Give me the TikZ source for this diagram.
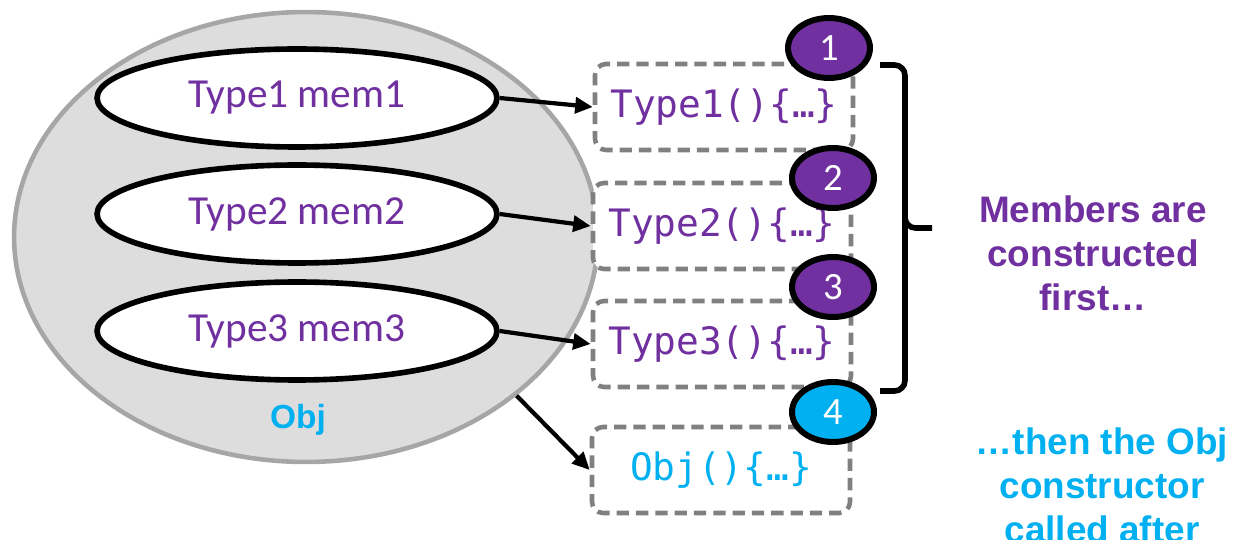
\documentclass[tikz,border=0pt]{standalone}
\usepackage{fontspec}
\setmainfont{Carlito}
\setsansfont{Liberation Sans}
\setmonofont{DejaVu Sans Mono}
\usepackage{tikz}
\usetikzlibrary{shapes.geometric, arrows.meta, positioning}

\definecolor{mempurple}{HTML}{7030A0}
\definecolor{objblue}{HTML}{00B0F0}
\definecolor{objgray}{HTML}{DDDDDD}
\definecolor{rimgray}{HTML}{A6A6A6}
\definecolor{dashgray}{HTML}{808080}

\begin{document}
\begin{tikzpicture}[
    x=0.02cm, y=-0.02cm,
    member/.style={ellipse, draw, line width=3.2pt, fill=white, minimum width=8cm, minimum height=1.96cm, inner sep=0pt, font=\fontsize{23.5}{26}\selectfont, text=mempurple},
    ctorbox/.style={rectangle, draw=dashgray, line width=2.6pt, dash pattern=on 7pt off 4pt, rounded corners=0.22cm, fill=white, minimum width=5.16cm, minimum height=1.72cm, inner sep=0pt, font=\ttfamily\fontsize{21.5}{24}\selectfont},
    badge/.style={ellipse, draw, line width=3.4pt, minimum width=1.64cm, minimum height=1.2cm, inner sep=0pt, text=white, font=\fontsize{22}{24}\selectfont},
    note/.style={align=center, font=\sffamily\bfseries\fontsize{21}{25}\selectfont},
    arrow/.style={-{Triangle[length=10pt,width=9pt]}, line width=2.4pt}
]
\useasboundingbox (0,0) rectangle (1241,540);
\clip (0,0) rectangle (1241,540);

% The object and its members
\node[ellipse, draw=rimgray, line width=2.6pt, fill=objgray, minimum width=11.68cm, minimum height=9cm] (obj) at (306,237) {};
\node[font=\sffamily\bfseries\fontsize{19}{22}\selectfont, text=objblue] (objname) at (298,420) {Obj};
\node[member] (mem1) at (297,98) {Type1 mem1};
\node[member] (mem2) at (297,214) {Type2 mem2};
\node[member] (mem3) at (297,331) {Type3 mem3};

% Constructors
\node[ctorbox, text=mempurple] (ctor1) at (724,107) {Type1()\{…\}};
\node[ctorbox, text=mempurple] (ctor2) at (722,226) {Type2()\{…\}};
\node[ctorbox, text=mempurple] (ctor3) at (722,344) {Type3()\{…\}};
\node[ctorbox, text=objblue] (ctor4) at (721,470) {Obj()\{…\}};

% Order of construction
\node[badge, fill=mempurple] (n1) at (829,48) {1};
\node[badge, fill=mempurple] (n2) at (833,178) {2};
\node[badge, fill=mempurple] (n3) at (833,287) {3};
\node[badge, fill=objblue] (n4) at (833,412) {4};

% Arrows to constructors
\draw[arrow] (mem1.east) -- (ctor1.west);
\draw[arrow] (mem2.east) -- (ctor2.west);
\draw[arrow] (mem3.east) -- (ctor3.west);
\draw[arrow] (obj.-37) -- (ctor4.west);

% Brace over the member constructors
\coordinate (btop) at (880,65);
\coordinate (bbot) at (880,391);
\coordinate (btip) at (932,228);
\draw[line width=3.2pt, rounded corners=6pt] (btop) -- (905,65) -- (905,391) -- (bbot);
\draw[line width=3.2pt, rounded corners=6pt] (905,212) -- (905,228) -- (btip);

% Notes
\node[note, text=mempurple] (first) at (1093,253) {Members are\\constructed\\first…};
\node[note, text=objblue] (after) at (1102,485) {…then the Obj\\constructor\\called after};

\end{tikzpicture}
\end{document}
